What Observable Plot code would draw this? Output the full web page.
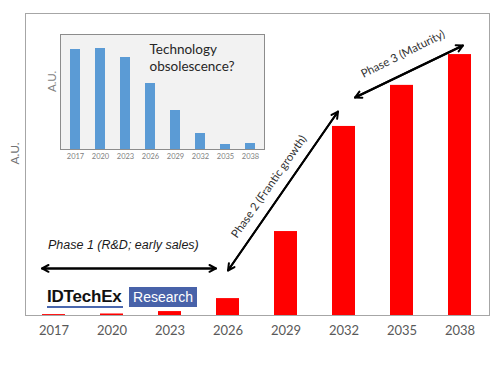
<!DOCTYPE html>
<html><head><meta charset="utf-8">
<script src="https://cdn.jsdelivr.net/npm/d3@7"></script>
<script src="https://cdn.jsdelivr.net/npm/@observablehq/plot@0.6"></script>
<style>
html,body{margin:0;padding:0;background:#fff;}
#wrap{position:relative;width:502px;height:366px;overflow:hidden;}
#main,#inset,#logo{position:absolute;}
#main{left:0;top:0;}
#inset{left:40px;top:30px;}
#logo{left:47px;top:287px;display:flex;align-items:flex-start;font-family:"Liberation Sans",Arial,sans-serif;}
#logo .brand{font-size:17px;font-weight:bold;color:#111;letter-spacing:-0.2px;line-height:18px;border-bottom:2px solid #4a67ae;margin-top:1px;width:76px;}
#logo .res{margin-left:6px;background:#4862a9;color:#fff;font-size:14px;line-height:20px;height:20px;width:68px;text-align:center;}
</style></head><body>
<div id="wrap"><div id="main"></div><div id="inset"></div>
<div id="logo"><span class="brand">IDTechEx</span><span class="res">Research</span></div></div>
<script>
// ---- data ----
const years = ["2017", "2020", "2023", "2026", "2029", "2032", "2035", "2038"];
const adoption = [0.3, 0.5, 1.3, 5.6, 27.8, 62.6, 76.2, 86.4];      // main chart, A.U.
const obsolescence = [100, 101, 92, 66, 39, 16, 5, 6];                // inset chart, A.U.
const phaseLabels = ["Phase 1 (R&D; early sales)", "Phase 2 (Frantic growth)", "Phase 3 (Maturity)"];
const insetTitle = "Technology\nobsolescence?";
const yLabel = "A.U.";

// ---- annotation anchors (data units) ----
const arrows = [
  {from: "2017", to: "2026", y1: 15.6, y2: 15.6, dx: -12, insetStart: 0, insetEnd: 0},
  {from: "2026", to: "2032", y1: 14.9, y2: 70.4, dx: 0, insetStart: 0, insetEnd: 10.5},
  {from: "2032", to: "2038", y1: 70.9, y2: 89.4, dx: 3, insetStart: 8.9, insetEnd: 0}
];
const phaseText = [
  {x: "2017", y: 23.2, dx: -6, rotate: 0, anchor: "start"},
  {x: "2029", y: 42.7, dx: -17, rotate: -55, anchor: "middle"},
  {x: "2035", y: 86.6, dx: 1, rotate: -26.6, anchor: "middle"}
];

const mainData = years.map((year, i) => ({year, value: adoption[i]}));
const insetData = years.map((year, i) => ({year, value: obsolescence[i]}));

const arrowStyle = {stroke: "#000", strokeWidth: 2, headLength: 5.5, headAngle: 55};
const arrowMarks = arrows.flatMap(a => [
  Plot.arrow([a], {x1: "from", y1: "y1", x2: "to", y2: "y2", dx: a.dx, insetStart: a.insetStart, insetEnd: a.insetEnd, ...arrowStyle}),
  Plot.arrow([a], {x1: "to", y1: "y2", x2: "from", y2: "y1", dx: a.dx, insetStart: a.insetEnd, insetEnd: a.insetStart, ...arrowStyle})
]);
const textMarks = phaseText.map((p, i) => Plot.text([phaseLabels[i]], {
  x: () => p.x, y: () => p.y, text: d => d, dx: p.dx, rotate: p.rotate, textAnchor: p.anchor,
  fontSize: i === 0 ? 12.5 : 11.5,
  fontFamily: i === 0 ? "Liberation Sans, Arial, sans-serif" : "Lato, sans-serif",
  fontStyle: i === 0 ? "italic" : "normal",
  fill: i === 0 ? "#1a1a1a" : "#333"
}));

const main = Plot.plot({
  width: 502, height: 366,
  marginLeft: 25, marginRight: 13, marginTop: 13, marginBottom: 51,
  style: {fontFamily: "Lato, sans-serif", background: "#fff", overflow: "visible"},
  x: {domain: years, paddingInner: 0.6, paddingOuter: 0.3, axis: null},
  y: {domain: [0, 100], axis: null},
  marks: [
    Plot.frame({stroke: "#a6a6a6"}),
    Plot.barY(mainData, {x: "year", y: "value", fill: "#ff0000"}),
    Plot.text(mainData, {x: "year", text: "year", frameAnchor: "bottom", dy: 19, fontSize: 13, fill: "#595959"}),
    Plot.text([yLabel], {frameAnchor: "left", dx: -10, rotate: -90, fontSize: 12, fill: "#737373"}),
    ...arrowMarks,
    ...textMarks
  ]
});
document.getElementById("main").appendChild(main);

const inset = Plot.plot({
  width: 230, height: 140,
  marginLeft: 20, marginRight: 6, marginTop: 4, marginBottom: 21,
  style: {fontFamily: "Lato, sans-serif", background: "transparent", overflow: "visible"},
  x: {domain: years, paddingInner: 0.6, paddingOuter: 0.3, axis: null},
  y: {domain: [0, 115], axis: null},
  marks: [
    Plot.frame({fill: "#f2f2f2", stroke: "#8c8c8c"}),
    Plot.barY(insetData, {x: "year", y: "value", fill: "#5b9bd5"}),
    Plot.text(insetData, {x: "year", text: "year", frameAnchor: "bottom", dy: 9, fontSize: 7.5, fill: "#7f7f7f"}),
    Plot.text([yLabel], {frameAnchor: "left", dx: -8, rotate: -90, fontSize: 11.5, fill: "#7f7f7f"}),
    Plot.text([insetTitle], {x: () => "2026", y: () => 92.5, text: d => d, dx: -1, textAnchor: "start", lineHeight: 1.3, fontSize: 13.5, fill: "#262626"})
  ]
});
document.getElementById("inset").appendChild(inset);
</script>
</body></html>
